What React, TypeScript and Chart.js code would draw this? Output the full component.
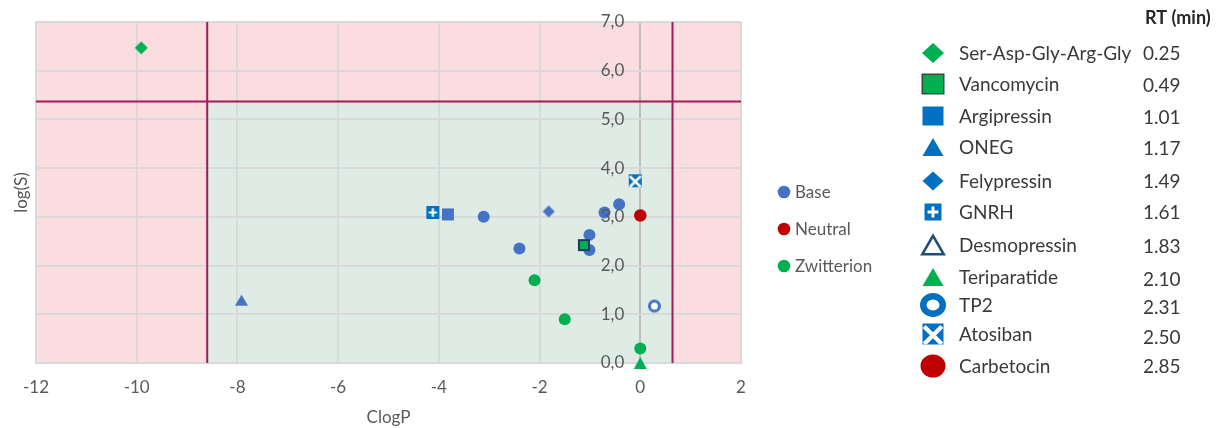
import React, { useEffect, useRef } from 'react';
import { Chart, registerables } from 'chart.js';
Chart.register(...registerables);

const FONT = 'Lato, "Open Sans", sans-serif';

// ---------- data ----------
const xTickValues = [-12, -10, -8, -6, -4, -2, 0, 2];
const yTickLabels = ['0,0', '1,0', '2,0', '3,0', '4,0', '5,0', '6,0', '7,0'];

const seriesNames = ['Base', 'Neutral', 'Zwitterion'];
const baseX = [-3.11, -2.40, -1.01, -1.01, -0.71, -0.42];
const baseY = [3.00, 2.35, 2.63, 2.32, 3.09, 3.26];
const neutralX = [0.0];
const neutralY = [3.03];
const zwitterionX = [-2.10, -1.50, 0.0];
const zwitterionY = [1.70, 0.90, 0.30];

const compoundNames = ['Ser-Asp-Gly-Arg-Gly', 'Vancomycin', 'Argipressin', 'ONEG', 'Felypressin', 'GNRH', 'Desmopressin', 'Teriparatide', 'TP2', 'Atosiban', 'Carbetocin'];
const compoundRT = ['0.25', '0.49', '1.01', '1.17', '1.49', '1.61', '1.83', '2.10', '2.31', '2.50', '2.85'];
const compoundX: (number | null)[] = [-9.91, -1.12, -3.82, -7.92, -1.82, -4.12, null, 0.0, 0.28, -0.10, 0.0];
const compoundY: (number | null)[] = [6.47, 2.42, 3.05, 1.29, 3.11, 3.09, null, 0.0, 1.17, 3.74, 3.03];

const clogPBounds = [-8.6, 0.64];
const logSBounds = [0, 5.37];

// ---------- styles ----------
const BLUE = '#4472C4';
const DBLUE = '#0070C0';
const GREEN = '#00B050';
const RED = '#C00000';
const seriesColors = [BLUE, RED, GREEN];

type Sym = { shape: string; fill: string; stroke?: string; lw?: number; w: number; h: number };
const chartSyms: Sym[] = [
  { shape: 'diamond', fill: GREEN, w: 13, h: 13 },
  { shape: 'square', fill: GREEN, stroke: '#1F3864', lw: 2, w: 12, h: 12 },
  { shape: 'square', fill: BLUE, w: 12, h: 12 },
  { shape: 'triangle', fill: BLUE, w: 13, h: 11 },
  { shape: 'diamond', fill: BLUE, w: 12, h: 12 },
  { shape: 'plusBox', fill: DBLUE, w: 13, h: 13 },
  { shape: 'triangle', fill: '#FFFFFF', stroke: '#1F4E79', lw: 2, w: 13, h: 12 },
  { shape: 'triangle', fill: GREEN, w: 13, h: 12 },
  { shape: 'ring', fill: '#FFFFFF', stroke: BLUE, lw: 3, w: 13, h: 13 },
  { shape: 'crossBox', fill: DBLUE, w: 13, h: 13 },
  { shape: 'circle', fill: RED, w: 12, h: 12 },
];
const legendSyms: Sym[] = [
  { shape: 'diamond', fill: GREEN, w: 22, h: 20 },
  { shape: 'square', fill: GREEN, stroke: '#2F4F3A', lw: 1.5, w: 23, h: 21 },
  { shape: 'square', fill: DBLUE, w: 21, h: 19 },
  { shape: 'triangle', fill: DBLUE, w: 21, h: 18 },
  { shape: 'diamond', fill: DBLUE, w: 21, h: 19 },
  { shape: 'plusBox', fill: DBLUE, w: 17, h: 17 },
  { shape: 'triangle', fill: '#FFFFFF', stroke: '#1F4E79', lw: 2.5, w: 24, h: 21 },
  { shape: 'triangle', fill: GREEN, w: 21, h: 18 },
  { shape: 'ring', fill: '#FFFFFF', stroke: DBLUE, lw: 6.5, w: 26, h: 24 },
  { shape: 'crossBox', fill: DBLUE, w: 21, h: 21 },
  { shape: 'circle', fill: RED, w: 25, h: 23 },
];

const legendSymX = 933;
const legendNameX = 959;
const legendRtX = 1143;
const legendRowY = [53, 84, 116, 147, 181, 212, 245, 277, 305, 334, 366];
const legendRtY = [53, 85, 117, 148, 181, 212, 246, 279, 307, 337, 366];
const seriesLegendX = 784;
const seriesLegendY = [192, 229, 266];

function drawSymbol(ctx: CanvasRenderingContext2D, s: Sym, cx: number, cy: number) {
  const inset = s.stroke ? (s.lw || 1) / 2 : 0;
  const w = s.w - inset * 2;
  const h = s.h - inset * 2;
  ctx.save();
  ctx.beginPath();
  if (s.shape === 'diamond') {
    ctx.moveTo(cx, cy - h / 2);
    ctx.lineTo(cx + w / 2, cy);
    ctx.lineTo(cx, cy + h / 2);
    ctx.lineTo(cx - w / 2, cy);
    ctx.closePath();
  } else if (s.shape === 'triangle') {
    ctx.moveTo(cx, cy - h / 2);
    ctx.lineTo(cx + w / 2, cy + h / 2);
    ctx.lineTo(cx - w / 2, cy + h / 2);
    ctx.closePath();
  } else if (s.shape === 'circle' || s.shape === 'ring') {
    ctx.ellipse(cx, cy, w / 2, h / 2, 0, 0, Math.PI * 2);
  } else {
    ctx.rect(cx - w / 2, cy - h / 2, w, h);
  }
  ctx.fillStyle = s.fill;
  ctx.fill();
  if (s.stroke) {
    ctx.strokeStyle = s.stroke;
    ctx.lineWidth = s.lw || 1;
    ctx.lineJoin = 'miter';
    ctx.stroke();
  }
  if (s.shape === 'plusBox') {
    ctx.strokeStyle = '#FFFFFF';
    ctx.lineWidth = Math.max(2, s.w * 0.17);
    ctx.beginPath();
    ctx.moveTo(cx, cy - h * 0.32);
    ctx.lineTo(cx, cy + h * 0.32);
    ctx.moveTo(cx - w * 0.32, cy);
    ctx.lineTo(cx + w * 0.32, cy);
    ctx.stroke();
  }
  if (s.shape === 'crossBox') {
    ctx.save();
    ctx.beginPath();
    ctx.rect(cx - w / 2, cy - h / 2, w, h);
    ctx.clip();
    ctx.strokeStyle = '#FFFFFF';
    ctx.lineWidth = Math.max(2.5, s.w * 0.2);
    ctx.beginPath();
    ctx.moveTo(cx - w * 0.42, cy - h * 0.36);
    ctx.lineTo(cx + w * 0.42, cy + h * 0.48);
    ctx.moveTo(cx + w * 0.42, cy - h * 0.36);
    ctx.lineTo(cx - w * 0.42, cy + h * 0.48);
    ctx.stroke();
    ctx.restore();
  }
  ctx.restore();
}

function symbolImage(s: Sym): HTMLCanvasElement {
  const c = document.createElement('canvas');
  c.width = s.w + 2;
  c.height = s.h + 2;
  const ctx = c.getContext('2d')!;
  drawSymbol(ctx, s, c.width / 2, c.height / 2);
  return c;
}

const zonesPlugin = {
  id: 'zones',
  beforeDraw(chart: any) {
    const { ctx, chartArea: a, scales } = chart;
    const x = scales.x, y = scales.y;
    ctx.save();
    ctx.fillStyle = '#FBDDDF';
    ctx.fillRect(a.left, a.top, a.right - a.left, a.bottom - a.top);
    const x0 = x.getPixelForValue(clogPBounds[0]);
    const x1 = x.getPixelForValue(clogPBounds[1]);
    const y0 = y.getPixelForValue(logSBounds[1]);
    const y1 = y.getPixelForValue(logSBounds[0]);
    ctx.fillStyle = '#DFECE5';
    ctx.fillRect(x0, y0, x1 - x0, y1 - y0);
    ctx.restore();
  },
  afterDraw(chart: any) {
    const { ctx, scales } = chart;
    const x = scales.x, y = scales.y;
    ctx.save();
    // y tick labels at x = 0
    ctx.font = `17px ${FONT}`;
    ctx.fillStyle = '#595959';
    ctx.textAlign = 'right';
    ctx.textBaseline = 'middle';
    const ax = x.getPixelForValue(0);
    y.ticks.forEach((t: any, i: number) => {
      ctx.fillText(yTickLabels[i], ax - 16, y.getPixelForValue(t.value));
    });
    // series legend
    ctx.textAlign = 'left';
    seriesNames.forEach((n, i) => {
      ctx.beginPath();
      ctx.arc(seriesLegendX, seriesLegendY[i], 6.3, 0, Math.PI * 2);
      ctx.fillStyle = seriesColors[i];
      ctx.fill();
      ctx.fillStyle = '#595959';
      ctx.fillText(n, seriesLegendX + 11, seriesLegendY[i] + 1);
    });
    // compound legend
    ctx.font = `bold 18px ${FONT}`;
    ctx.fillStyle = '#262626';
    ctx.fillText('RT (min)', legendRtX + 2, 18);
    ctx.font = `19px ${FONT}`;
    compoundNames.forEach((n, i) => {
      drawSymbol(ctx, legendSyms[i], legendSymX, legendRowY[i]);
      ctx.fillStyle = '#3A3A3A';
      ctx.fillText(n, legendNameX, legendRowY[i] + 1);
      ctx.fillText(compoundRT[i], legendRtX, legendRtY[i] + 1);
    });
    ctx.restore();
  },
};

export default function App() {
  const ref = useRef<HTMLCanvasElement | null>(null);
  useEffect(() => {
    const canvas = ref.current!;
    const lineColor = '#9E1B5C';
    const bottomToTop: any[] = [
      {
        label: 'limitLogS',
        data: [{ x: -12, y: logSBounds[1] }, { x: 2, y: logSBounds[1] }],
        showLine: true, borderColor: lineColor, borderWidth: 2, pointRadius: 0,
      },
      ...clogPBounds.map((b) => ({
        label: 'limitClogP',
        data: [{ x: b, y: 0 }, { x: b, y: 7 }],
        showLine: true, borderColor: lineColor, borderWidth: 2, pointRadius: 0, clip: false,
      })),
      {
        label: seriesNames[0],
        data: baseX.map((v, i) => ({ x: v, y: baseY[i] })),
        pointStyle: 'circle', pointRadius: 6, backgroundColor: BLUE, borderWidth: 0,
      },
      {
        label: seriesNames[1],
        data: neutralX.map((v, i) => ({ x: v, y: neutralY[i] })),
        pointStyle: 'circle', pointRadius: 6, backgroundColor: RED, borderWidth: 0,
      },
      {
        label: seriesNames[2],
        data: zwitterionX.map((v, i) => ({ x: v, y: zwitterionY[i] })),
        pointStyle: 'circle', pointRadius: 6, backgroundColor: GREEN, borderWidth: 0, clip: false,
      },
      ...compoundNames.map((n, i) => ({
        label: n,
        data: compoundX[i] === null ? [] : [{ x: compoundX[i], y: compoundY[i] }],
        pointStyle: symbolImage(chartSyms[i]),
        pointRadius: 6,
        clip: false,
      })),
    ];
    const datasets = bottomToTop.slice().reverse();
    const chart = new Chart(canvas, {
      type: 'scatter',
      data: { datasets },
      options: {
        animation: false,
        responsive: false,
        devicePixelRatio: 1,
        layout: { padding: { left: 0, top: 22, right: 480, bottom: 0 } },
        plugins: { legend: { display: false }, tooltip: { enabled: false } },
        scales: {
          x: {
            type: 'linear', min: -12, max: 2,
            ticks: {
              stepSize: 2, color: '#595959', font: { family: FONT, size: 17 }, padding: 14,
              callback: (v: any) => (xTickValues.includes(Number(v)) ? String(v) : ''),
            },
            grid: {
              color: (c: any) => (c.tick && c.tick.value === 0 ? '#BFBFBF' : '#D9D9D9'),
              lineWidth: 2, drawTicks: false,
            },
            border: { display: true, color: '#D9D9D9', width: 2 },
            title: { display: true, text: 'ClogP', color: '#595959', font: { family: FONT, size: 17 }, padding: { top: 0, bottom: 0 } },
            afterFit: (s: any) => { s.height = 65; },
          },
          y: {
            type: 'linear', min: 0, max: 7,
            ticks: { stepSize: 1, display: false },
            grid: { color: '#D9D9D9', lineWidth: 2, drawTicks: false },
            border: { display: false },
            title: { display: true, text: 'log(S)', color: '#595959', font: { family: FONT, size: 17 }, padding: { top: 11, bottom: 0 } },
            afterFit: (s: any) => { s.width = 36; },
          },
        },
      } as any,
      plugins: [zonesPlugin],
    });
    return () => chart.destroy();
  }, []);
  return (
    <div style={{ position: 'absolute', left: 0, top: 0, width: 1221, height: 428, background: '#FFFFFF' }}>
      <canvas ref={ref} width={1221} height={428} />
    </div>
  );
}
